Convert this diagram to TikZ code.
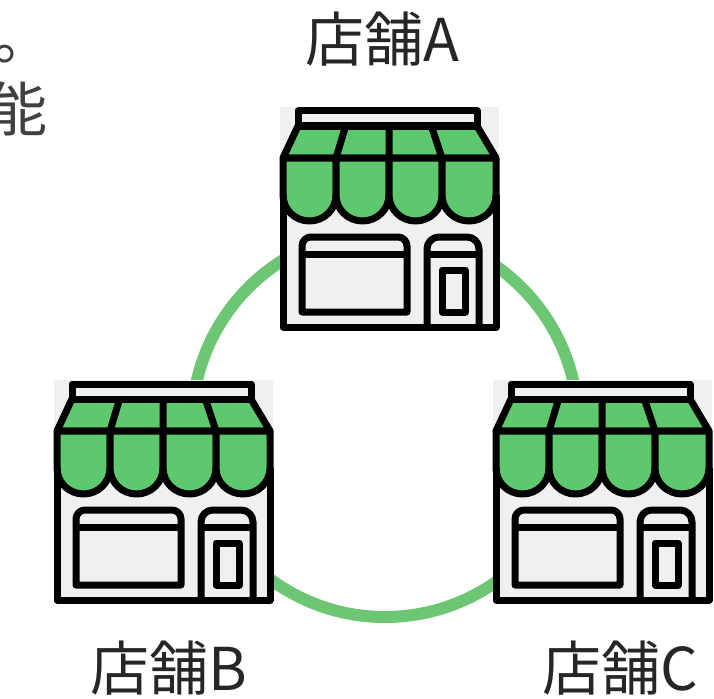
\documentclass[tikz,border=0pt]{standalone}
\usepackage{fontspec}
\newfontfamily\cjk{Noto Sans CJK JP}
\definecolor{storegreen}{HTML}{5EC86F}
\definecolor{storegray}{HTML}{F0F0F0}
\definecolor{ringgreen}{HTML}{6CC673}
\definecolor{textgray}{HTML}{404040}
\tikzset{
  storeline/.style={draw=black,line width=7pt,line join=round},
  storelabel/.style={font=\cjk\fontsize{59}{59}\selectfont,text=black!85,inner sep=0pt},
  cuttext/.style={font=\cjk\fontsize{59}{59}\selectfont,text=textgray,inner sep=0pt},
  pics/store/.style={code={
    \fill[storegray] (0,0) rectangle (219,223);
    % roof and awning
    \filldraw[storeline,fill=storegreen] (3,51) -- (18,19) -- (197,19) -- (216,51) -- cycle;
    \draw[storeline,fill=storegray] (18,4) rectangle (197,19);
    \draw[storeline] (65,21) -- (56,51) (109,21) -- (109,51) (152,21) -- (162,51);
    \foreach \xa/\xb in {3/56,56/109,109/162,162/216}
      \filldraw[storeline,fill=storegreen] (\xa,51) -- (\xa,88)
        arc[start angle=180,end angle=0,x radius={(\xb-\xa)/2},y radius=26] -- (\xb,51) -- cycle;
    % walls
    \draw[storeline] (3,88) -- (3,220) -- (216,220) -- (216,88);
    % window
    \draw[storeline] (22,205) [rounded corners=9pt] -- (22,130) -- (127,130) [sharp corners] -- (127,205) -- cycle;
    \draw[storeline] (22,147) -- (127,147);
    % door
    \draw[storeline,rounded corners=12pt] (147,220) -- (147,130) -- (199,130) -- (199,220);
    \draw[storeline] (147,147) -- (199,147);
    \draw[storeline] (162,163) rectangle (185,205);
  }}
}
\begin{document}
\begin{tikzpicture}[x=1pt,y=-1pt]
\useasboundingbox (0,0) rectangle (714,698);
\fill[white] (0,0) rectangle (714,698);

\node[circle,draw=ringgreen,line width=12pt,minimum size=386pt,inner sep=0pt] (ring) at (385,424) {};

\pic (storeA) at (280,107) {store};
\pic (storeB) at (54,380) {store};
\pic (storeC) at (493,380) {store};

\node[storelabel] (labelA) at (382,39) {店舗A};
\node[storelabel] (labelB) at (169,668) {店舗B};
\node[storelabel] (labelC) at (620,668) {店舗C};

\node[cuttext] (textA) at (23,54) {。};
\node[cuttext] (textB) at (18,109) {能};
\end{tikzpicture}
\end{document}
